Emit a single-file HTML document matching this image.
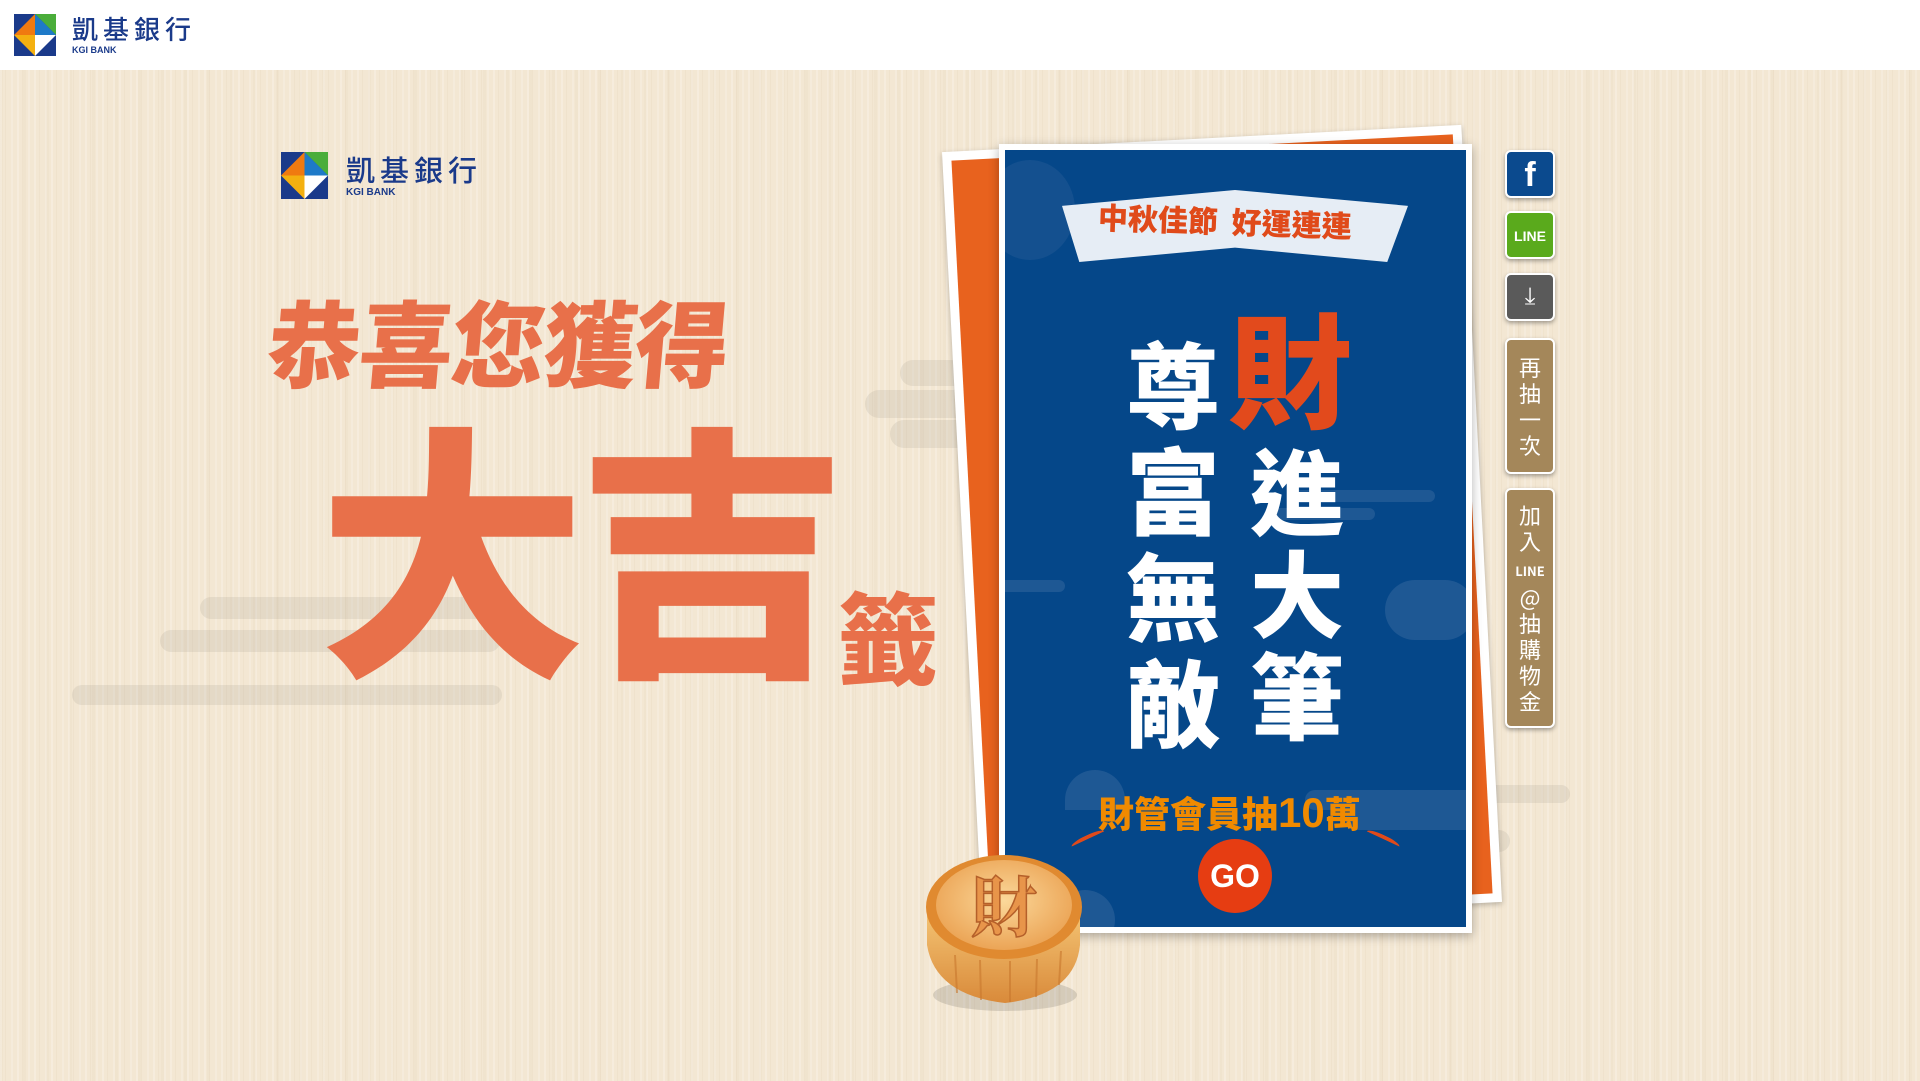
<!DOCTYPE html>
<html><head><meta charset="utf-8"><style>
*{margin:0;padding:0;box-sizing:border-box}
body{width:1920px;height:1081px;overflow:hidden;position:relative;background:#fff;font-family:"Liberation Sans","Noto Sans CJK TC",sans-serif}
.abs{position:absolute}
#bg{left:0;top:70px;width:1920px;height:1011px;background:
repeating-linear-gradient(90deg,rgba(255,255,255,.22) 0 2px,rgba(0,0,0,0) 2px 5px,rgba(190,160,120,.07) 5px 6px,rgba(0,0,0,0) 6px 11px,rgba(255,255,255,.18) 11px 13px,rgba(0,0,0,0) 13px 17px),
repeating-linear-gradient(90deg,rgba(200,170,130,.06) 0 3px,rgba(0,0,0,0) 3px 23px),
#f3e7d3}
.cloud{position:absolute;background:rgba(150,140,130,.16);border-radius:14px}
.bcloud{position:absolute;background:#2a5f98;border-radius:14px;opacity:.7}
.cjk{font-family:"Noto Sans CJK TC","Noto Sans CJK SC",sans-serif}
.side{position:absolute;left:1505px;width:50px;border-radius:6px;border:2px solid #fff;box-shadow:0 2px 4px rgba(0,0,0,.35);color:#fff;text-align:center}
</style></head><body>
<div class="abs" id="bg"></div>

<!-- header -->
<div class="abs" style="left:0;top:0;width:1920px;height:70px;background:#fff"></div>
<svg class="abs" style="left:14px;top:14px" width="42" height="42" viewBox="0 0 42 42">
<rect width="42" height="42" fill="#1a3a8a"/><polygon points="21,0 42,0 42,21" fill="#4aad3a"/><polygon points="0,21 21,0 21,21" fill="#f07a10"/><polygon points="21,0 42,21 21,21" fill="#1e7ac8"/><polygon points="0,21 21,21 21,42" fill="#f4b010"/><polygon points="21,21 42,21 21,42" fill="#fff"/></svg>
<div class="abs cjk" style="left:72px;top:10px;font-size:26px;color:#1a3a8a;letter-spacing:5px;font-weight:500">凱基銀行</div>
<div class="abs" style="left:72px;top:45px;font-size:9px;font-weight:bold;color:#1a3a8a">KGI BANK</div>

<!-- clouds -->
<div class="cloud" style="left:900px;top:360px;width:160px;height:26px"></div>
<div class="cloud" style="left:865px;top:390px;width:260px;height:28px"></div>
<div class="cloud" style="left:890px;top:420px;width:220px;height:28px"></div>
<div class="cloud" style="left:200px;top:597px;width:300px;height:22px"></div>
<div class="cloud" style="left:160px;top:630px;width:340px;height:22px"></div>
<div class="cloud" style="left:72px;top:685px;width:430px;height:20px"></div>
<div class="cloud" style="left:1380px;top:785px;width:190px;height:18px"></div>
<div class="cloud" style="left:1350px;top:830px;width:160px;height:22px"></div>

<!-- second logo -->
<svg class="abs" style="left:281px;top:152px" width="47" height="47" viewBox="0 0 42 42">
<rect width="42" height="42" fill="#1a3a8a"/><polygon points="21,0 42,0 42,21" fill="#4aad3a"/><polygon points="0,21 21,0 21,21" fill="#f07a10"/><polygon points="21,0 42,21 21,21" fill="#1e7ac8"/><polygon points="0,21 21,21 21,42" fill="#f4b010"/><polygon points="21,21 42,21 21,42" fill="#fff"/></svg>
<div class="abs cjk" style="left:346px;top:148px;font-size:29px;color:#1a3a8a;letter-spacing:5px;font-weight:500">凱基銀行</div>
<div class="abs" style="left:346px;top:187px;font-size:10px;font-weight:bold;color:#1a3a8a">KGI BANK</div>

<!-- headline -->
<div class="abs cjk" style="left:268px;top:272px;font-size:94px;font-weight:900;color:#e8704a;transform:skewX(-5deg);letter-spacing:-2px;white-space:nowrap">恭喜您獲得</div>
<div class="abs cjk" style="left:318px;top:380px;font-size:268px;font-weight:900;color:#e8704a;letter-spacing:-8px;white-space:nowrap;line-height:1.2">大吉</div>
<div class="abs cjk" style="left:838px;top:574px;font-size:100px;font-weight:900;color:#e8704a;line-height:1.2">籤</div>

<!-- back card -->
<div class="abs" style="left:962px;top:138px;width:520px;height:778px;background:#fff;transform:rotate(-3deg);box-shadow:0 2px 6px rgba(0,0,0,.25)">
 <div style="position:absolute;left:9px;top:9px;right:9px;bottom:9px;background:#e8621e"></div>
</div>
<!-- front card -->
<div class="abs" style="left:999px;top:144px;width:473px;height:789px;background:#fff;box-shadow:0 3px 10px rgba(0,0,0,.3)">
 <div style="position:absolute;left:6px;top:6px;width:461px;height:777px;background:#054789;overflow:hidden">
  <div class="bcloud" style="left:290px;top:340px;width:140px;height:12px"></div>
  <div class="bcloud" style="left:260px;top:358px;width:110px;height:12px"></div>
  <div class="bcloud" style="left:-10px;top:430px;width:70px;height:12px"></div>
  <div class="bcloud" style="left:50px;top:740px;width:60px;height:60px;border-radius:50%"></div>
  <div class="bcloud" style="left:380px;top:430px;width:90px;height:60px;border-radius:40px"></div>
  <div class="bcloud" style="left:60px;top:620px;width:60px;height:40px;border-radius:40px 40px 0 0"></div>
  <div class="bcloud" style="left:300px;top:640px;width:180px;height:20px"></div>
  <div class="bcloud" style="left:340px;top:660px;width:140px;height:20px"></div>
  <div class="bcloud" style="left:-20px;top:10px;width:90px;height:100px;border-radius:50%;opacity:.4"></div>
 </div>
</div>
<!-- banner -->
<div class="abs" style="left:1062px;top:190px;width:346px;height:72px;background:#e6edf5;clip-path:polygon(0 22%,50% 0,100% 22%,94% 100%,50% 80%,5% 100%)"></div>
<div class="abs cjk" style="left:1098px;top:202px;font-size:30px;font-weight:900;color:#e04a1a;white-space:nowrap;transform:rotate(2deg);line-height:1.2">中秋佳節&nbsp;&nbsp;好運連連</div>

<!-- blessing chars -->
<div class="abs cjk" style="left:1118px;top:328px;width:110px;font-size:94px;font-weight:900;color:#fff;line-height:106px;text-align:center">尊<br>富<br>無<br>敵</div>
<div class="abs cjk" style="left:1228px;top:296px;font-size:124px;font-weight:900;color:#e24a1c;line-height:1.1">財</div>
<div class="abs cjk" style="left:1242px;top:437px;width:110px;font-size:94px;font-weight:900;color:#fff;line-height:102px;text-align:center">進<br>大<br>筆</div>

<div class="abs cjk" style="left:1098px;top:790px;font-size:36px;font-weight:900;color:#f08a00;white-space:nowrap;line-height:1.1">財管會員抽<span style="font-family:'Liberation Sans',sans-serif;font-size:42px;font-weight:bold">10</span>萬</div>
<div class="abs" style="left:1070px;top:835px;width:36px;height:8px;border-top:4px solid #e04a1a;border-radius:50%;transform:rotate(-25deg)"></div>
<div class="abs" style="left:1365px;top:835px;width:36px;height:8px;border-top:4px solid #e04a1a;border-radius:50%;transform:rotate(25deg)"></div>
<div class="abs" style="left:1198px;top:839px;width:74px;height:74px;border-radius:50%;background:#e63d12;color:#fff;font-weight:bold;font-size:32px;text-align:center;line-height:74px">GO</div>

<!-- side buttons -->
<div class="side" style="top:150px;height:48px;background:#0b4a8e;font-size:34px;font-weight:bold;line-height:46px">f</div>
<div class="side" style="top:211px;height:48px;background:#5aaa1c;font-size:14px;font-weight:bold;line-height:46px">LINE</div>
<div class="side" style="top:273px;height:48px;background:#5a5a5a;font-size:24px;line-height:44px">⤓</div>
<div class="side cjk" style="top:338px;height:136px;background:#a4875a;font-size:22px;line-height:26px;padding-top:14px">再<br>抽<br>一<br>次</div>
<div class="side cjk" style="top:488px;height:240px;background:#a4875a;font-size:22px;line-height:26px;padding-top:12px">加<br>入<br><span style="font-size:13px;font-weight:bold">LINE</span><br>@<br>抽<br>購<br>物<br>金</div>

<!-- mooncake -->
<svg class="abs" style="left:915px;top:845px" width="175" height="175" viewBox="0 0 175 175">
<defs><radialGradient id="mt" cx="50%" cy="45%" r="60%"><stop offset="0" stop-color="#fbd89a"/><stop offset="1" stop-color="#eaa050"/></radialGradient>
<linearGradient id="mb" x1="0" x2="0" y1="0" y2="1"><stop offset="0" stop-color="#f6c878"/><stop offset="1" stop-color="#d98a3a"/></linearGradient></defs>
<ellipse cx="90" cy="150" rx="72" ry="16" fill="rgba(0,0,0,.12)"/>
<path d="M12 60 L12 100 Q20 150 90 158 Q160 150 165 100 L165 60 Z" fill="url(#mb)"/>
<g stroke="#c9782e" stroke-width="2" opacity=".6"><line x1="40" y1="110" x2="42" y2="148"/><line x1="65" y1="115" x2="66" y2="155"/><line x1="95" y1="116" x2="95" y2="157"/><line x1="122" y1="114" x2="121" y2="152"/><line x1="146" y1="106" x2="144" y2="140"/></g>
<ellipse cx="89" cy="62" rx="78" ry="52" fill="#e08a30"/>
<ellipse cx="89" cy="60" rx="68" ry="45" fill="url(#mt)"/>
<text x="89" y="86" text-anchor="middle" font-family="Noto Serif CJK SC,serif" font-size="66" font-weight="bold" fill="#e8954a" stroke="#b5602a" stroke-width="1.5">財</text>
</svg>
</body></html>
